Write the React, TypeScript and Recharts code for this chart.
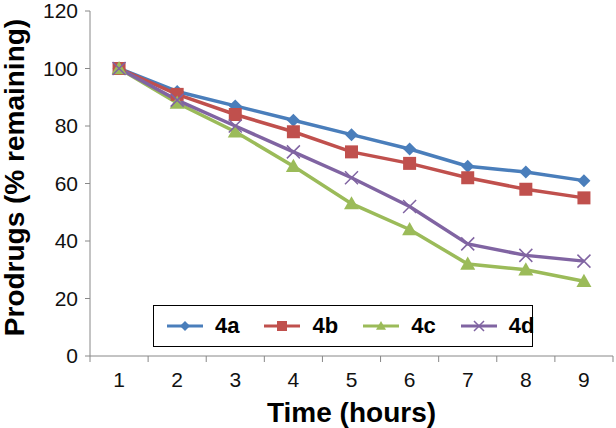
import { LineChart, Line, XAxis, YAxis, Legend, Label } from 'recharts';

const hours = [1, 2, 3, 4, 5, 6, 7, 8, 9];
const s4a = [100, 92, 87, 82, 77, 72, 66, 64, 61];
const s4b = [100, 91, 84, 78, 71, 67, 62, 58, 55];
const s4c = [100, 88, 78, 66, 53, 44, 32, 30, 26];
const s4d = [100, 89, 80, 71, 62, 52, 39, 35, 33];
const yTicks = [0, 20, 40, 60, 80, 100, 120];
const xTicks = [0.5, 1, 1.5, 2, 2.5, 3, 3.5, 4, 4.5, 5, 5.5, 6, 6.5, 7, 7.5, 8, 8.5, 9, 9.5];

const FONT = '"Liberation Sans", Arial, sans-serif';
const AXIS = '#888';

const data = hours.map((t, i) => ({ t, a: s4a[i], b: s4b[i], c: s4c[i], d: s4d[i] }));

type MarkProps = { cx?: number; cy?: number; color: string; s?: number };

const Diamond = ({ cx = 0, cy = 0, color, s = 6.5 }: MarkProps) => (
  <path d={`M${cx},${cy - s}L${cx + s},${cy}L${cx},${cy + s}L${cx - s},${cy}Z`} fill={color} />
);
const Square = ({ cx = 0, cy = 0, color, s = 6.5 }: MarkProps) => (
  <rect x={cx - s} y={cy - s} width={s * 2} height={s * 2} fill={color} />
);
const Triangle = ({ cx = 0, cy = 0, color, s = 7.5 }: MarkProps) => (
  <path d={`M${cx},${cy - s}L${cx + s},${cy + s * 0.75}L${cx - s},${cy + s * 0.75}Z`} fill={color} />
);
const Cross = ({ cx = 0, cy = 0, color, s = 6.5 }: MarkProps) => (
  <path d={`M${cx - s},${cy - s}L${cx + s},${cy + s}M${cx - s},${cy + s}L${cx + s},${cy - s}`} stroke={color} strokeWidth={1.5} fill="none" />
);

const series = [
  { key: 'a', name: '4a', color: '#4a7ebb', Mark: Diamond },
  { key: 'b', name: '4b', color: '#c0504d', Mark: Square },
  { key: 'c', name: '4c', color: '#9bbb59', Mark: Triangle },
  { key: 'd', name: '4d', color: '#8064a2', Mark: Cross },
];

// integer ticks carry the label, half ticks draw the tick mark between categories
const XTick = (props: any) => {
  const { x, y, payload } = props;
  const v = payload.value;
  if (Number.isInteger(v)) {
    return (
      <text x={x} y={y + 31} textAnchor="middle" fontSize={21} fill="#111" fontFamily={FONT}>
        {v}
      </text>
    );
  }
  return <line x1={x} x2={x} y1={y} y2={y + 6} stroke={AXIS} />;
};

const LegendBox = () => (
  <div
    style={{
      boxSizing: 'border-box',
      width: 380,
      height: 42,
      border: '1.5px solid #000',
      background: '#fff',
      display: 'flex',
      alignItems: 'center',
      paddingLeft: 12,
      fontFamily: FONT,
    }}
  >
    {series.map(({ key, name, color, Mark }) => (
      <div key={key} style={{ display: 'flex', alignItems: 'center', marginRight: 24 }}>
        <svg width={38} height={16}>
          <line x1={1} x2={37} y1={8} y2={8} stroke={color} strokeWidth={3} />
          <Mark cx={19} cy={8} color={color} s={5} />
        </svg>
        <span style={{ fontSize: 22, fontWeight: 'bold', marginLeft: 11, color: '#000' }}>{name}</span>
      </div>
    ))}
  </div>
);

export default function App() {
  return (
    <div style={{ position: 'absolute', left: 0, top: 0, width: 616, height: 428, background: '#fff' }}>
      <LineChart width={616} height={428} data={data} margin={{ top: 11, right: 3, bottom: 0, left: 0 }}>
        <XAxis
          type="number"
          dataKey="t"
          domain={[0.5, 9.5]}
          ticks={xTicks}
          interval={0}
          tickLine={false}
          tickSize={0}
          tickMargin={0}
          tick={<XTick />}
          axisLine={{ stroke: AXIS }}
          height={72}
        >
          <Label
            value="Time (hours)"
            position="insideBottom"
            offset={6}
            style={{ fontSize: 28, fontWeight: 'bold', fill: '#000', fontFamily: FONT }}
          />
        </XAxis>
        <YAxis
          domain={[0, 120]}
          ticks={yTicks}
          interval={0}
          width={90}
          tickSize={5}
          tickMargin={7}
          axisLine={{ stroke: AXIS }}
          tickLine={{ stroke: AXIS }}
          tick={{ fontSize: 21, fill: '#111', fontFamily: FONT }}
        >
          <Label
            value="Prodrugs (% remaining)"
            angle={-90}
            position="center"
            dx={-31}
            dy={-6}
            style={{ fontSize: 28, fontWeight: 'bold', fill: '#000', fontFamily: FONT, textAnchor: 'middle' }}
          />
        </YAxis>
        <Legend
          verticalAlign="middle"
          align="center"
          layout="horizontal"
          content={<LegendBox />}
          wrapperStyle={{ left: 153, top: 305, width: 380, height: 42 }}
        />
        {series.map(({ key, name, color, Mark }) => (
          <Line
            key={key}
            dataKey={key}
            name={name}
            stroke={color}
            strokeWidth={3.5}
            isAnimationActive={false}
            dot={(p: any) => <Mark key={`${key}-${p.index}`} cx={p.cx} cy={p.cy} color={color} />}
            activeDot={false}
          />
        ))}
      </LineChart>
    </div>
  );
}
